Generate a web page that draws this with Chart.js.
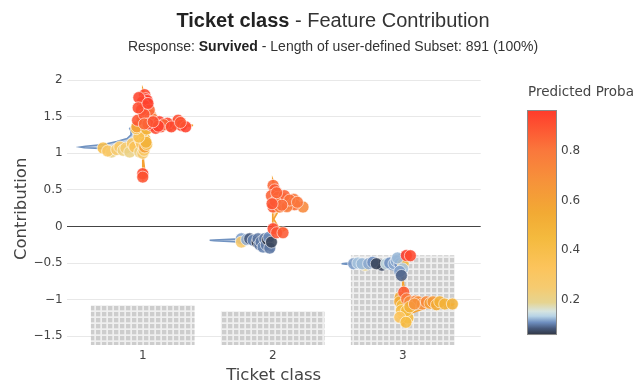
<!DOCTYPE html>
<html><head><meta charset="utf-8">
<script src="https://cdn.jsdelivr.net/npm/chart.js@4.4.0/dist/chart.umd.min.js"></script>
<style>
html,body{margin:0;padding:0;background:#fff;}
#wrap{position:relative;width:644px;height:391px;overflow:hidden;background:#fff;}
#c{position:absolute;left:0;top:0;}
.t{position:absolute;white-space:nowrap;font-family:"Liberation Sans",Arial,sans-serif;color:#333;}
.v{font-family:Verdana,"DejaVu Sans",sans-serif;color:#444;}
</style></head><body>
<div id="wrap">
<canvas id="c" width="644" height="391"></canvas>
<div class="t" style="left:0;width:666px;text-align:center;top:10px;font-size:20px;line-height:20px;"><b style="color:#222">Ticket class</b> - Feature Contribution</div>
<div class="t" style="left:0;width:666px;text-align:center;top:39px;font-size:14px;line-height:14px;">Response: <b style="color:#222">Survived</b> - Length of user-defined Subset: 891 (100%)</div>
<div class="t v" style="left:528px;top:85px;font-size:13.5px;line-height:13.5px;">Predicted Proba</div>
</div>
<script>
// ---------- data ----------
const categories = [1, 2, 3];
const categoryCounts = [216, 184, 491];
const xTickValues = [1, 2, 3];
const yTickValues = [-1.5, -1, -0.5, 0, 0.5, 1, 1.5, 2];
const colorbarTicks = [0.2, 0.4, 0.6, 0.8];
const probaMin = 0.059, probaMax = 0.965;
const colorStops = [0.059, 0.085, 0.11, 0.135, 0.155, 0.19, 0.25, 0.33, 0.45, 0.55, 0.68, 0.8, 0.965];
const colorHex = ['#2e3440', '#46587a', '#6f8fc0', '#b7d3e6', '#d6e4e0', '#e6d490', '#f5cb70', '#fcc45c', '#f4ba3e', '#f2aa34', '#f6923a', '#fa783c', '#ff3b2b'];

// class 1 points (jitter offset, contribution, predicted proba)
const c1Offset = [
  -0.305, -0.24, -0.27, -0.2, -0.177, -0.151, -0.13, -0.1, -0.08, -0.062, -0.023, -0.02, -0.01, 0.0, 0.01, 0.015, 0.015, 0.0, 0.03, 0.025, -0.03, -0.05, -0.045, 0.03,
  0.0, 0.0,
  -0.005, 0.03, 0.06, 0.075, -0.04,
  0.015, 0.023, 0.033, -0.003, 0.015, 0.05, -0.01, 0.01, -0.03, -0.035, 0.04,
  0.067, 0.128, 0.14, 0.205, 0.25, 0.272, 0.297, 0.33, 0.1, 0.04, 0.19, 0.012, 0.16, 0.22, 0.29, 0.12, 0.08];
const c1Contrib = [
  1.071, 1.016, 1.03, 1.05, 1.085, 1.04, 1.07, 1.016, 1.13, 1.085, 1.016, 1.17, 1.13, 1.0, 1.04, 1.197, 1.085, 1.29, 1.12, 1.15, 1.22, 1.336, 1.36, 1.33,
  0.72, 0.674,
  1.47, 1.50, 1.52, 1.47, 1.45,
  1.80, 1.745, 1.72, 1.70, 1.65, 1.59, 1.59, 1.53, 1.76, 1.62, 1.68,
  1.38, 1.43, 1.36, 1.38, 1.40, 1.45, 1.38, 1.36, 1.34, 1.40, 1.41, 1.40, 1.39, 1.36, 1.42, 1.37, 1.43];
const c1Proba = [
  0.4, 0.2, 0.3, 0.26, 0.3, 0.22, 0.25, 0.21, 0.3, 0.35, 0.22, 0.28, 0.33, 0.26, 0.3, 0.45, 0.62, 0.4, 0.4, 0.5, 0.38, 0.42, 0.6, 0.5,
  0.93, 0.9,
  0.55, 0.62, 0.7, 0.78, 0.9,
  0.93, 0.95, 0.96, 0.93, 0.95, 0.85, 0.93, 0.9, 0.94, 0.92, 0.95,
  0.96, 0.95, 0.9, 0.88, 0.8, 0.92, 0.93, 0.95, 0.93, 0.94, 0.93, 0.85, 0.85, 0.93, 0.9, 0.96, 0.9];

// class 2 points
const c2Offset = [
  -0.241, -0.241, -0.2, -0.177, -0.15, -0.12, -0.113, -0.1, -0.09, -0.074, -0.062, -0.05, -0.04, -0.03, -0.023, -0.01,
  0.003, 0.015, -0.01, 0.041, 0.079, 0.162, 0.054, 0.118, 0.003, 0.054, 0.233, 0.169, 0.09, 0.02, 0.11, 0.03, 0.13, 0.19, 0.07, -0.005,
  0.003, 0.03, 0.079];
const c2Contrib = [
  -0.169, -0.214, -0.18, -0.169, -0.19, -0.214, -0.169, -0.25, -0.21, -0.282, -0.169, -0.25, -0.18, -0.15, -0.296, -0.214,
  0.56, 0.50, 0.42, 0.40, 0.38, 0.37, 0.33, 0.31, 0.265, 0.265, 0.265, 0.297, 0.42, 0.34, 0.27, 0.46, 0.36, 0.33, 0.29, 0.31,
  -0.032, -0.086, -0.086];
const c2Proba = [
  0.115, 0.28, 0.12, 0.085, 0.105, 0.065, 0.1, 0.1, 0.1, 0.105, 0.1, 0.1, 0.065, 0.11, 0.1, 0.07,
  0.85, 0.88, 0.86, 0.82, 0.8, 0.8, 0.85, 0.83, 0.88, 0.78, 0.72, 0.83, 0.86, 0.8, 0.78, 0.86, 0.82, 0.8, 0.84, 0.9,
  0.93, 0.9, 0.88];

// class 3 points
const c3Offset = [
  -0.29, -0.16, -0.377, -0.345, -0.313, -0.262, -0.23, -0.203, -0.126, -0.1, -0.067, -0.05, -0.023, 0.003, -0.04, 0.0, -0.023, -0.01,
  0.028, 0.059,
  -0.02, -0.023, -0.005, 0.0, 0.04, -0.01, 0.03, -0.023, 0.025,
  0.008, 0.03, 0.054, 0.1, 0.118, 0.15, 0.182, 0.21, 0.233, 0.26, 0.285, 0.323, 0.382, 0.054, 0.09];
const c3Contrib = [
  -0.53, -0.53, -0.51, -0.5, -0.51, -0.51, -0.49, -0.51, -0.51, -0.5, -0.51, -0.47, -0.51, -0.51, -0.43, -0.58, -0.615, -0.67,
  -0.397, -0.40,
  -0.97, -1.03, -1.08, -1.2, -1.25, -1.15, -1.15, -1.24, -1.31,
  -0.898, -0.99, -1.03, -1.02, -1.03, -1.06, -1.03, -1.05, -1.03, -1.07, -1.03, -1.06, -1.06, -1.1, -1.06];
const c3Proba = [
  0.2, 0.075, 0.115, 0.13, 0.125, 0.12, 0.11, 0.07, 0.145, 0.11, 0.12, 0.12, 0.11, 0.45, 0.125, 0.13, 0.115, 0.09,
  0.96, 0.93,
  0.55, 0.55, 0.45, 0.38, 0.45, 0.42, 0.45, 0.33, 0.42,
  0.88, 0.8, 0.72, 0.75, 0.7, 0.7, 0.72, 0.62, 0.65, 0.55, 0.52, 0.5, 0.5, 0.5, 0.68];

// violin density profiles (contribution level, half width)
const v1NegY = [0.95, 1.0, 1.04, 1.06, 1.075, 1.085, 1.095, 1.12, 1.16, 1.2, 1.25, 1.3, 1.34, 1.38, 1.42];
const v1NegW = [0.0, 0.05, 0.12, 0.25, 0.45, 0.48, 0.44, 0.3, 0.2, 0.12, 0.09, 0.09, 0.1, 0.05, 0.0];
const v1PosY = [0.62, 0.7, 0.9, 1.1, 1.3, 1.34, 1.37, 1.38, 1.39, 1.42, 1.46, 1.6, 1.75, 1.88];
const v1PosW = [0.0, 0.02, 0.006, 0.01, 0.05, 0.15, 0.33, 0.387, 0.33, 0.15, 0.05, 0.02, 0.03, 0.0];
const v2NegY = [-0.34, -0.3, -0.25, -0.21, -0.195, -0.19, -0.185, -0.17, -0.14, -0.12];
const v2NegW = [0.0, 0.08, 0.12, 0.3, 0.45, 0.485, 0.45, 0.25, 0.06, 0.0];
const v2PosY = [-0.12, -0.08, -0.04, 0.0, 0.1, 0.2, 0.26, 0.3, 0.35, 0.45, 0.55, 0.64];
const v2PosW = [0.0, 0.06, 0.1, 0.04, 0.008, 0.04, 0.2, 0.15, 0.08, 0.04, 0.02, 0.0];
const v3NegY = [-0.72, -0.65, -0.6, -0.53, -0.515, -0.51, -0.505, -0.49, -0.45, -0.4, -0.37];
const v3NegW = [0.0, 0.03, 0.05, 0.25, 0.44, 0.47, 0.44, 0.25, 0.08, 0.04, 0.0];
const v3PosY = [-1.36, -1.3, -1.2, -1.1, -1.075, -1.065, -1.055, -1.03, -0.98, -0.9, -0.8, -0.6, -0.45, -0.37];
const v3PosW = [0.0, 0.02, 0.04, 0.2, 0.385, 0.39, 0.35, 0.2, 0.05, 0.03, 0.008, 0.005, 0.03, 0.0];

// ---------- helpers ----------
function hexRgb(h) { return [parseInt(h.slice(1,3),16), parseInt(h.slice(3,5),16), parseInt(h.slice(5,7),16)]; }
function probaColor(p, a) {
  let i = 0;
  while (i < colorStops.length - 2 && p > colorStops[i + 1]) i++;
  const t = Math.max(0, Math.min(1, (p - colorStops[i]) / (colorStops[i + 1] - colorStops[i])));
  const c0 = hexRgb(colorHex[i]), c1 = hexRgb(colorHex[i + 1]);
  const c = c0.map((v, k) => Math.round(v + (c1[k] - v) * t));
  return `rgba(${c[0]},${c[1]},${c[2]},${a})`;
}
function violin(cat, ys, ws, side) {
  const pts = ys.map((y, i) => ({x: cat + side * ws[i], y}));
  for (let i = ys.length - 1; i >= 0; i--) pts.push({x: cat, y: ys[i]});
  return pts;
}
function pointSet(cat, off, con, pr) {
  return {
    type: 'scatter', order: 0,
    data: off.map((o, i) => ({x: cat + o, y: con[i]})),
    backgroundColor: pr.map(p => probaColor(p, 0.88)),
    borderColor: 'rgba(255,255,255,0.6)', borderWidth: 1, pointRadius: 6
  };
}
const blueLine = '#7193c1', blueFill = 'rgba(125,155,200,0.45)';
const orangeLine = '#f5a233', orangeFill = 'rgba(248,170,70,0.45)';
function violinSet(pts, line, fill) {
  return {type: 'scatter', order: 1, data: pts, showLine: true, fill: 'shape',
    borderColor: line, backgroundColor: fill, borderWidth: 1.6, pointRadius: 0, tension: 0};
}

// hatch pattern
const tile = document.createElement('canvas'); tile.width = 6; tile.height = 6;
const tc = tile.getContext('2d');
tc.fillStyle = '#efefef'; tc.fillRect(0, 0, 6, 6);
tc.fillStyle = '#cdcdcd'; tc.fillRect(0, 0, 4.3, 4.3);
const hatch = document.getElementById('c').getContext('2d').createPattern(tile, 'repeat');

const FONT = 'Verdana, "DejaVu Sans", sans-serif';

const colorbarPlugin = {
  id: 'colorbar',
  afterDraw(chart) {
    const s = chart.scales.cb, ctx = chart.ctx;
    const top = s.getPixelForValue(probaMax), bot = s.getPixelForValue(probaMin);
    const x0 = 527, w = 30;
    const g = ctx.createLinearGradient(0, bot, 0, top);
    colorStops.forEach((v, i) => g.addColorStop((v - probaMin) / (probaMax - probaMin), colorHex[i]));
    ctx.save();
    ctx.fillStyle = g; ctx.fillRect(x0, top, w, bot - top);
    ctx.strokeStyle = '#8a8a8a'; ctx.lineWidth = 1;
    ctx.strokeRect(x0 + 0.5, Math.round(top) + 0.5, w - 1, Math.round(bot - top) - 1);
    ctx.fillStyle = '#444'; ctx.font = '12px ' + FONT;
    ctx.textAlign = 'left'; ctx.textBaseline = 'middle';
    colorbarTicks.forEach(v => ctx.fillText(String(v), 561, s.getPixelForValue(v)));
    ctx.restore();
  }
};

Chart.defaults.font.family = FONT;
Chart.defaults.color = '#444';

const datasets = [
  pointSet(categories[0], c1Offset, c1Contrib, c1Proba),
  pointSet(categories[1], c2Offset, c2Contrib, c2Proba),
  pointSet(categories[2], c3Offset, c3Contrib, c3Proba),
  violinSet(violin(categories[0], v1NegY, v1NegW, -1), blueLine, blueFill),
  violinSet(violin(categories[0], v1PosY, v1PosW, 1), orangeLine, orangeFill),
  violinSet(violin(categories[1], v2NegY, v2NegW, -1), blueLine, blueFill),
  violinSet(violin(categories[1], v2PosY, v2PosW, 1), orangeLine, orangeFill),
  violinSet(violin(categories[2], v3NegY, v3NegW, -1), blueLine, blueFill),
  violinSet(violin(categories[2], v3PosY, v3PosW, 1), orangeLine, orangeFill),
  {type: 'bar', order: 2, yAxisID: 'yh', data: categories.map((c, i) => ({x: c, y: categoryCounts[i]})),
    backgroundColor: hatch, borderWidth: 0, barThickness: 103}
];

new Chart(document.getElementById('c'), {
  data: {datasets},
  options: {
    responsive: false, animation: false, devicePixelRatio: 1,
    layout: {padding: {top: 72.7, left: 0, right: 163.3, bottom: 0}},
    plugins: {legend: {display: false}, tooltip: {enabled: false}},
    scales: {
      x: {type: 'linear', axis: 'x', position: 'bottom', min: 0.415, max: 3.6, offset: false,
        afterBuildTicks: s => { s.ticks = xTickValues.map(v => ({value: v})); },
        afterFit: s => { s.height = 46; },
        grid: {display: false, drawTicks: false, offset: false}, border: {display: false},
        ticks: {autoSkip: false, maxRotation: 0, padding: 4, font: {size: 12}, color: '#444'},
        title: {display: true, text: 'Ticket class', font: {size: 16.5}, color: '#444', padding: {top: 0, bottom: 5}}
      },
      y: {type: 'linear', axis: 'y', position: 'left', min: -1.62, max: 2.1, offset: false,
        afterBuildTicks: s => { s.ticks = yTickValues.map(v => ({value: v})); },
        afterFit: s => { s.width = 66.7; },
        grid: {drawTicks: false, color: c => c.tick && c.tick.value === 0 ? '#444' : '#e8e8e8', lineWidth: 1},
        border: {display: false},
        ticks: {autoSkip: false, padding: 4, font: {size: 12}, color: '#444',
          callback: v => v < 0 ? '\u2212' + Math.abs(v) : String(v)},
        title: {display: true, text: 'Contribution', font: {size: 16.5}, color: '#444', padding: {top: 11.5, bottom: 0}}
      },
      yh: {type: 'linear', axis: 'y', position: 'right', display: false, min: 0, max: 1494, offset: false},
      cb: {type: 'linear', axis: 'y', position: 'right', display: false, min: 0.0188, max: 1.1153, offset: false}
    }
  },
  plugins: [colorbarPlugin]
});
</script>
</body></html>
